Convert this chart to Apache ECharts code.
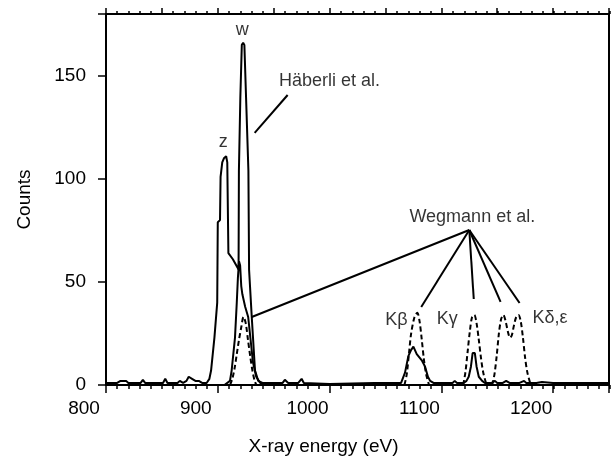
<!DOCTYPE html>
<html>

<head>
	<meta charset="utf-8" />
	<script src="https://cdn.jsdelivr.net/npm/echarts@6/dist/echarts.min.js"></script>
</head>

<title>
	Ne IX spectrum
</title>

<body style="margin: 0; background-color: #ffffff">
	<div id="main" style="width: 612px; height: 461px;"></div>
</body>

<script type="text/javascript">
	// measured spectrum (solid): z, w, K-beta, K-gamma and the noisy baseline
	var haberli = [
		[800, 1], [810, 1], [813, 2], [818, 2], [820, 1], [831, 1], [833, 2.5], [835, 1],
		[851, 1], [853, 3], [855, 1], [864, 1], [866, 2], [869, 1], [872, 2], [874, 4],
		[877, 3], [880, 2], [883, 2], [886, 1], [890, 1],
		[892.5, 3], [894, 7], [897, 23], [899.5, 40], [900, 79], [902, 80], [902.5, 101],
		[904, 108], [905.5, 110], [907.5, 111], [908.5, 108], [909.5, 64], [913.5, 61], [918.6, 56],
		[918.9, 104], [920.2, 140], [921.5, 165], [922.7, 166], [923.8, 165], [927.4, 104],
		[928, 56], [930.4, 33], [933.3, 7], [936.2, 2], [940, 1],
		[958, 1], [960, 2.5], [963, 1], [972, 1], [975, 3], [977, 1], [1000, 0.5], [1040, 1],
		[1064, 1], [1067.5, 6], [1070.5, 14], [1073, 17], [1075, 18.6], [1078, 15], [1082.5, 12],
		[1085.4, 9], [1088, 4], [1090, 2], [1093, 1], [1110, 1], [1112, 2], [1114, 1],
		[1120, 1], [1122.5, 2], [1124.5, 4], [1126.5, 9], [1128, 15.5], [1130, 15.5], [1131.5, 9],
		[1133.5, 4], [1136.5, 2], [1139, 1], [1145, 1], [1148, 2], [1150, 1], [1155, 1], [1158, 2],
		[1161, 1], [1170, 1], [1174, 2], [1176, 1], [1185, 1], [1190, 1.5], [1200, 1],
		[1215, 1], [1230, 1], [1250, 1]
	];
	// second solid trace under the w line
	var wegmannSolid = [
		[906, 0], [910.9, 2], [912.4, 7], [915.4, 23], [917, 40], [918, 52], [919, 60],
		[920, 58], [921, 48], [922, 44], [924.5, 38], [927.2, 33], [931.5, 11], [934.4, 4],
		[938, 1], [942, 0]
	];
	// dashed peaks
	var dashW = [
		[911, 0], [913, 3], [915, 8], [917, 15], [919, 22], [921, 28], [923, 33], [925, 30],
		[927, 22], [929, 14], [931, 7], [933, 2], [934.5, 0]
	];
	var dashKb = [
		[1067, 0], [1069, 5], [1071, 15], [1073, 25], [1076, 33], [1078.5, 35], [1080.5, 31],
		[1082.5, 22], [1084.5, 12], [1086.5, 5], [1089, 0]
	];
	var dashKg = [
		[1119.5, 0], [1121.5, 6], [1123.5, 16], [1125.5, 26], [1127.5, 33], [1129.5, 34], [1131.5, 30],
		[1133.5, 22], [1135.5, 13], [1137.5, 6], [1140.5, 0]
	];
	var dashKde = [
		[1145.5, 0], [1147.5, 5], [1149.5, 14], [1151.5, 25], [1153.5, 32], [1155.5, 34], [1157.5, 31],
		[1159.5, 26], [1161.5, 23], [1163, 24], [1165, 29], [1167, 33], [1169, 34], [1171, 31],
		[1173, 23], [1175, 13], [1177, 6], [1180, 0]
	];

	// annotation texts [energy, counts, text]
	var labels = [
		[922, 172.3, 'w'],
		[905, 118, 'z'],
		[1000, 147.5, 'Häberli et al.'],
		[1127.7, 81.5, 'Wegmann et al.'],
		[1059.8, 31.5, 'Kβ'],
		[1105.4, 32, 'Kγ'],
		[1197.3, 32.5, 'Kδ,ε']
	];
	// leader lines [[from], [to]]
	var leaders = [
		[[962.5, 140.7], [933, 122.3]],
		[[1125, 75.2], [930.4, 33]],
		[[1125, 75.2], [1082, 37.8]],
		[[1125, 75.2], [1129, 41.7]],
		[[1125, 75.2], [1153, 40.3]],
		[[1125, 75.2], [1170, 39.8]]
	];

	var ink = '#000000';
	var font = 'Liberation Sans';
	var gridPos = { left: 106, right: 2, top: 14, bottom: 76 };

	function solid(data) {
		return {
			type: 'line', data: data, symbol: 'none', xAxisIndex: 0, yAxisIndex: 0,
			lineStyle: { color: ink, width: 2 }, z: 3
		};
	}
	function dashed(data) {
		return {
			type: 'line', data: data, symbol: 'none', smooth: 0.3, xAxisIndex: 0, yAxisIndex: 0,
			lineStyle: { color: ink, width: 2, type: [5, 3] }, z: 3
		};
	}

	var series = [solid(haberli), solid(wegmannSolid)];
	[dashW, dashKb, dashKg, dashKde].forEach(function (d) { series.push(dashed(d)); });
	series.push({
		type: 'lines', coordinateSystem: 'cartesian2d', xAxisIndex: 0, yAxisIndex: 0,
		data: leaders.map(function (l) { return { coords: l }; }),
		lineStyle: { color: ink, width: 2, opacity: 1 }, z: 4
	});
	series.push({
		type: 'scatter', xAxisIndex: 0, yAxisIndex: 0, symbolSize: 0,
		data: labels,
		label: {
			show: true, position: 'inside', color: ink, fontFamily: font, fontSize: 18,
			formatter: function (p) { return p.value[2]; }
		},
		z: 5
	});

	var myChart = echarts.init(document.getElementById('main'));

	var option = {
		animation: false,
		backgroundColor: '#ffffff',
		grid: [
			Object.assign({}, gridPos),
			Object.assign({}, gridPos)
		],
		xAxis: [
			{
				gridIndex: 0, type: 'value', position: 'bottom', min: 800, max: 1250, interval: 100,
				name: 'X-ray energy (eV)', nameLocation: 'middle', nameGap: 52,
				nameTextStyle: { color: ink, fontFamily: font, fontSize: 19, padding: [0, 68, 0, 0] },
				axisLine: { onZero: false, lineStyle: { color: ink, width: 2 } },
				axisTick: { length: 8, lineStyle: { color: ink, width: 1.5 } },
				axisLabel: {
					color: ink, fontFamily: font, fontSize: 19, margin: 14, padding: [0, 44, 0, 0],
					formatter: function (v) { return v % 100 === 0 && v < 1250 ? v : ''; }
				},
				splitLine: { show: false }
			},
			{
				gridIndex: 0, type: 'value', position: 'top', min: 800, max: 1250, interval: 50,
				axisLine: { onZero: false, lineStyle: { color: ink, width: 2 } },
				axisTick: { length: 6, lineStyle: { color: ink, width: 1.5 } },
				axisLabel: { show: false },
				splitLine: { show: false }
			},
			{
				gridIndex: 1, type: 'value', position: 'bottom', min: 800, max: 1250, interval: 10,
				axisLine: { show: false, onZero: false },
				axisTick: { length: 4, lineStyle: { color: ink, width: 1.5 } },
				axisLabel: { show: false },
				splitLine: { show: false }
			},
			{
				gridIndex: 1, type: 'value', position: 'top', min: 800, max: 1250, interval: 10,
				axisLine: { show: false, onZero: false },
				axisTick: { length: 3, lineStyle: { color: ink, width: 1.5 } },
				axisLabel: { show: false },
				splitLine: { show: false }
			}
		],
		yAxis: [
			{
				gridIndex: 0, type: 'value', position: 'left', min: 0, max: 180, interval: 50,
				name: 'Counts', nameLocation: 'middle', nameGap: 72,
				nameTextStyle: { color: ink, fontFamily: font, fontSize: 19 },
				axisLine: { show: true, onZero: false, lineStyle: { color: ink, width: 2 } },
				axisTick: { show: true, length: 8, lineStyle: { color: ink, width: 1.5 } },
				axisLabel: {
					color: ink, fontFamily: font, fontSize: 19, margin: 20,
					formatter: function (v) { return v % 50 === 0 ? v : ''; }
				},
				splitLine: { show: false }
			},
			{
				gridIndex: 0, type: 'value', position: 'right', min: 0, max: 180,
				axisLine: { show: true, onZero: false, lineStyle: { color: ink, width: 2 } },
				axisTick: { show: false },
				axisLabel: { show: false },
				splitLine: { show: false }
			},
			{
				gridIndex: 1, type: 'value', min: 0, max: 180, show: false
			}
		],
		series: series
	};

	myChart.setOption(option);
</script>

</html>
